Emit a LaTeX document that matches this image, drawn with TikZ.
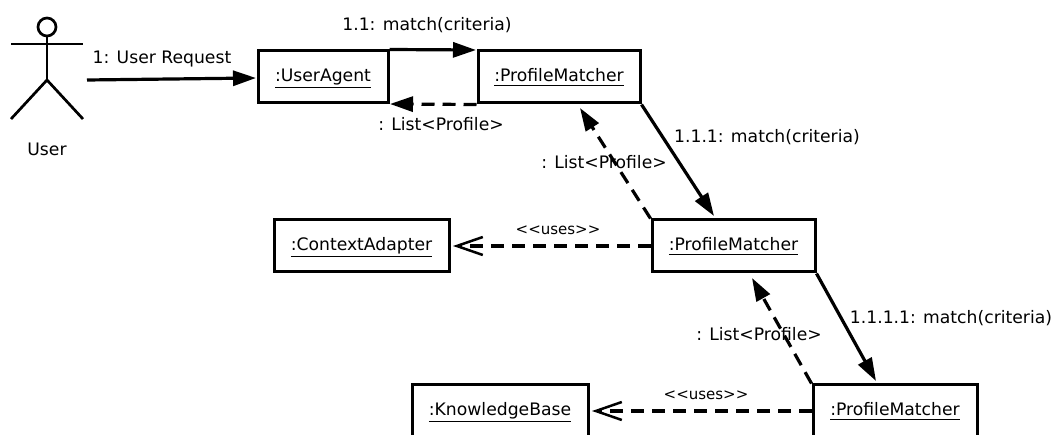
\documentclass[tikz,border=0pt]{standalone}
\usepackage{fontspec}
\setmainfont{DejaVu Sans}
\usetikzlibrary{arrows.meta}
\newcommand{\ulname}[1]{\underline{#1\rule[-2pt]{0pt}{0pt}}}
\tikzset{
  x=1pt,y=-1pt,
  obj/.style={draw,line width=3pt,minimum height=52pt,inner sep=0pt,text height=15pt,text depth=5pt,font=\fontsize{17.2}{20}\selectfont},
  lbl/.style={inner sep=0pt,font=\fontsize{17.2}{20}\selectfont},
  small/.style={inner sep=0pt,font=\fontsize{15}{18}\selectfont},
  actor/.style={line width=2.7pt},
  call/.style={line width=3.2pt,-{Triangle[length=23pt,width=15pt]}},
  ret/.style={line width=3.2pt,dash pattern=on 13pt off 8pt,-{Triangle[length=23pt,width=15pt]}},
  uses/.style={line width=3.2pt,dash pattern=on 13pt off 8pt,-{Straight Barb[length=26pt,width=18pt,line width=2.5pt]}}
}
\begin{document}
\begin{tikzpicture}
\clip (0,0) rectangle (1055,435);
\fill[white] (0,0) rectangle (1055,435);
% actor
\node[draw,circle,line width=2.7pt,minimum size=18pt,inner sep=0pt] (head) at (47,27) {};
\coordinate (hip) at (47,80);
\coordinate (armL) at (11,44);
\coordinate (armR) at (83,44);
\coordinate (legL) at (11,119);
\coordinate (legR) at (83,119);
\draw[actor] (head) -- (hip);
\draw[actor] (armL) -- (armR);
\draw[actor] (legL) -- (hip) -- (legR);
\node[lbl] (user) at (47,149) {User};
% objects
\node[obj,minimum width=130pt] (ua) at (323,77) {\ulname{:UserAgent}};
\node[obj,minimum width=162pt] (pm1) at (559,77) {\ulname{:ProfileMatcher}};
\node[obj,minimum width=163pt] (pm2) at (733.5,246) {\ulname{:ProfileMatcher}};
\node[obj,minimum width=175pt] (ca) at (361.5,246) {\ulname{:ContextAdapter}};
\node[obj,minimum width=164pt] (pm3) at (895,411) {\ulname{:ProfileMatcher}};
\node[obj,minimum width=176pt] (kb) at (500,411) {\ulname{:KnowledgeBase}};
% free ends
\coordinate (start) at (87,80);
\coordinate (t0) at (256,78);
\coordinate (t1) at (476,50);
\coordinate (t2) at (390,104);
\coordinate (t3) at (714,216);
\coordinate (t4) at (580,108);
\coordinate (t5) at (453,246);
\coordinate (t6) at (876,381);
\coordinate (t7) at (752,278);
\coordinate (t8) at (592,411);
% connectors
\draw[call] (start) -- (t0);
\draw[call] (ua.north east) -- (t1);
\draw[ret] (pm1.south west) -- (t2);
\draw[call] (pm1.south east) -- (t3);
\draw[ret] (pm2.north west) -- (t4);
\draw[uses] (pm2.west) -- (t5);
\draw[call] (pm2.south east) -- (t6);
\draw[ret] (pm3.north west) -- (t7);
\draw[uses] (pm3.west) -- (t8);
% labels
\node[lbl] (l1) at (162,59.5) {1: User Request};
\node[lbl] (l2) at (427,25.5) {1.1: match(criteria)};
\node[lbl] (l3) at (441,124) {: List<Profile>};
\node[lbl] (l4) at (604,162) {: List<Profile>};
\node[lbl] (l5) at (767,137.5) {1.1.1: match(criteria)};
\node[small] (l6) at (558,230) {<{}<uses>{}>};
\node[lbl] (l7) at (951,318.5) {1.1.1.1: match(criteria)};
\node[lbl] (l8) at (759,334) {: List<Profile>};
\node[small] (l9) at (706,395) {<{}<uses>{}>};
\end{tikzpicture}
\end{document}
